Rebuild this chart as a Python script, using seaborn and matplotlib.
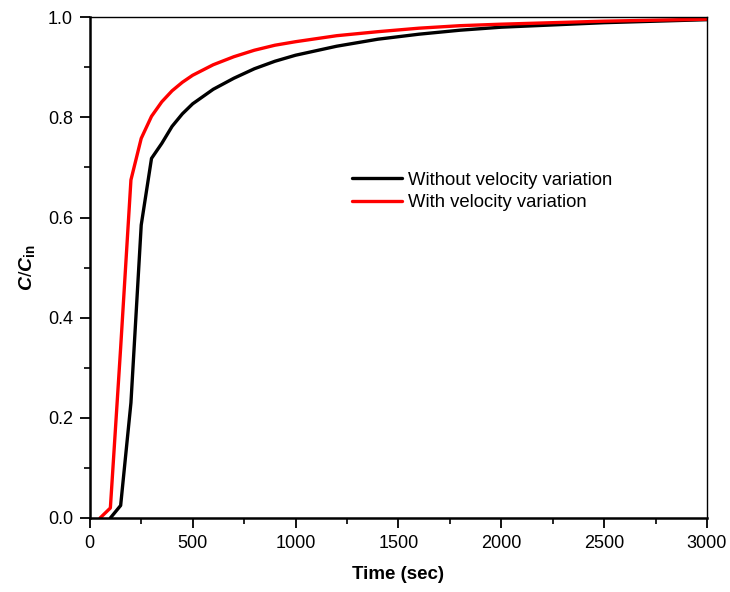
import pandas as pd
import seaborn as sns
import matplotlib.pyplot as plt
from matplotlib.ticker import MultipleLocator

# --- data ---
t_without = [100, 150, 200, 250, 300, 350, 400, 450, 500, 600, 700, 800, 900, 1000,
             1200, 1400, 1600, 1800, 2000, 2500, 3000]
c_without = [0.0, 0.025, 0.23, 0.585, 0.718, 0.748, 0.782, 0.807, 0.827, 0.856, 0.878,
             0.897, 0.912, 0.924, 0.942, 0.956, 0.966, 0.974, 0.980, 0.989, 0.995]

t_with = [50, 100, 150, 200, 250, 300, 350, 400, 450, 500, 600, 700, 800, 900, 1000,
          1200, 1400, 1600, 1800, 2000, 2500, 3000]
c_with = [0.0, 0.02, 0.34, 0.675, 0.758, 0.802, 0.831, 0.853, 0.870, 0.884, 0.905, 0.921,
          0.934, 0.944, 0.951, 0.963, 0.971, 0.978, 0.983, 0.986, 0.992, 0.996]

series = ["Without velocity variation", "With velocity variation"]

df = pd.concat([
    pd.DataFrame({"Time": t_without, "C": c_without, "Series": series[0]}),
    pd.DataFrame({"Time": t_with, "C": c_with, "Series": series[1]}),
])

sns.set_theme(style="ticks")
plt.rcParams['font.family'] = ['Liberation Sans', 'DejaVu Sans']
plt.rcParams['text.color'] = 'black'
plt.rcParams['axes.labelcolor'] = 'black'
plt.rcParams['mathtext.fontset'] = 'custom'
plt.rcParams['mathtext.it'] = 'Liberation Sans:italic:bold'
plt.rcParams['mathtext.bf'] = 'Liberation Sans:bold'
plt.rcParams['mathtext.rm'] = 'Liberation Sans'

fig = plt.figure(figsize=(7.3, 5.92), dpi=100)
ax = fig.add_axes([0.123, 0.125, 0.8455, 0.846])

sns.lineplot(data=df, x="Time", y="C", hue="Series", hue_order=series,
             palette={series[0]: "black", series[1]: "#ff0000"},
             linewidth=2.4, ax=ax, sort=False, estimator=None)

ax.set_xlim(0, 3000)
ax.set_ylim(0, 1.0)
ax.xaxis.set_major_locator(MultipleLocator(500))
ax.xaxis.set_minor_locator(MultipleLocator(250))
ax.yaxis.set_major_locator(MultipleLocator(0.2))
ax.yaxis.set_minor_locator(MultipleLocator(0.1))
ax.tick_params(which='major', direction='out', length=7, width=1.3, labelsize=13,
               colors='black', pad=5)
ax.tick_params(which='minor', direction='out', length=4, width=1.2, colors='black')

for side in ['left', 'bottom']:
    ax.spines[side].set_linewidth(1.8)
for side in ['top', 'right']:
    ax.spines[side].set_linewidth(1.0)
for s in ax.spines.values():
    s.set_color('black')

ax.set_xlabel("Time (sec)", fontsize=13.5, fontweight='bold', labelpad=10)
ax.set_ylabel(r"$\it{C/C}_{\bf{in}}$", fontsize=14, labelpad=8)

leg = ax.legend(title=None, frameon=False, loc='upper left', bbox_to_anchor=(0.413, 0.706),
                fontsize=13.3, handlelength=2.7, handletextpad=0.35, labelspacing=0.3,
                borderaxespad=0)
for txt in leg.get_texts():
    txt.set_color('black')

fig.savefig("out.png", dpi=100)
